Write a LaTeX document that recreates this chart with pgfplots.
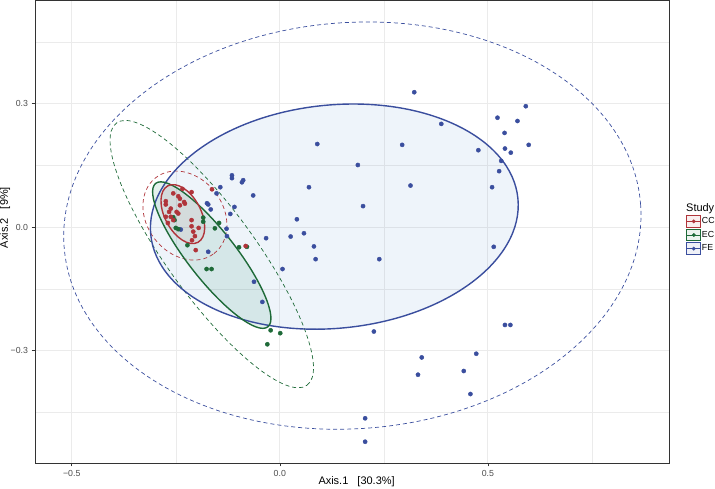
\documentclass[border=0pt]{standalone}
\usepackage{fontspec}
\setmainfont{Liberation Sans}
\usepackage{pgfplots}
\pgfplotsset{compat=1.18}

\definecolor{ccred}{RGB}{176,52,58}
\definecolor{ecgreen}{RGB}{30,106,56}
\definecolor{feblue}{RGB}{58,78,158}
\definecolor{fefill}{RGB}{70,130,200}
\definecolor{ecfill}{RGB}{30,140,100}
\definecolor{ccfill}{RGB}{200,60,60}
\definecolor{grid92}{gray}{0.92}
\definecolor{grey20}{gray}{0.2}
\definecolor{grey30}{gray}{0.3}

\begin{document}
\begin{tikzpicture}
\begin{axis}[
    name=ax,
    x=416bp, y=411bp,
    xmin=-0.5882, xmax=0.9358, ymin=-0.5735, ymax=0.5523,
    axis line style={grey20, line width=0.8bp},
    xtick={-0.5,0,0.5}, xticklabels={−0.5,0.0,0.5},
    ytick={-0.3,0,0.3}, yticklabels={−0.3,0.0,0.3},
    minor xtick={-0.25,0.25,0.75},
    minor ytick={-0.45,-0.15,0.15,0.45},
    grid=both,
    major grid style={grid92, line width=0.9bp},
    minor grid style={grid92, line width=0.45bp},
    tick align=outside, tick pos=left,
    major tick length=3.5bp, minor tick length=0pt,
    tick style={grey20, line width=0.6bp},
    ticklabel style={font=\fontsize{8.8}{10}\selectfont, text=grey30},
    xlabel={Axis.1\ \ \ [30.3\%]},
    ylabel={Axis.2\ \ \ [9\%]},
    label style={font=\fontsize{11}{13}\selectfont},
    xlabel style={at={(axis description cs:0.507,-0.0396)}, anchor=center},
    ylabel style={at={(axis description cs:-0.0473,0.53)}, anchor=center},
    legend style={at={(1.0263,0.536)}, anchor=north west, draw=none, fill=none,
        inner sep=0pt, row sep=0.8bp, font=\fontsize{8.8}{10}\selectfont,
        nodes={inner sep=0.6bp}},
    legend cell align=left,
]

% ellipse fills
\fill[fefill, fill opacity=0.09, rotate around={5.66:(axis cs:0.131,0.0255)}]
    (axis cs:0.131,0.0255) ellipse [x radius=184.4bp, y radius=111.6bp];
\fill[ecfill, fill opacity=0.12, rotate around={-52:(axis cs:-0.1635,-0.0681)}]
    (axis cs:-0.1635,-0.0681) ellipse [x radius=91bp, y radius=24bp];
\fill[ccfill, fill opacity=0.07, rotate around={-62:(axis cs:-0.233,0.0316)}]
    (axis cs:-0.233,0.0316) ellipse [x radius=32bp, y radius=18bp];

% dashed ellipses
\draw[feblue, line width=0.7bp, dash pattern=on 4bp off 3bp, rotate around={4.16:(axis cs:0.1743,0.0036)}]
    (axis cs:0.1743,0.0036) ellipse [x radius=288.9bp, y radius=203bp];
\draw[ecgreen, line width=0.7bp, dash pattern=on 4bp off 3bp, rotate around={-54:(axis cs:-0.1635,-0.0657)}]
    (axis cs:-0.1635,-0.0657) ellipse [x radius=162bp, y radius=44bp];
\draw[ccred, line width=0.7bp, dash pattern=on 4bp off 3bp, rotate around={-52.6:(axis cs:-0.228,0.028)}]
    (axis cs:-0.228,0.028) ellipse [x radius=47.8bp, y radius=38.2bp];

% solid ellipses
\draw[feblue, line width=1.4bp, rotate around={5.66:(axis cs:0.131,0.0255)}]
    (axis cs:0.131,0.0255) ellipse [x radius=184.4bp, y radius=111.6bp];
\draw[ecgreen, line width=1.4bp, rotate around={-52:(axis cs:-0.1635,-0.0681)}]
    (axis cs:-0.1635,-0.0681) ellipse [x radius=91bp, y radius=24bp];
\draw[ccred, line width=1.4bp, rotate around={-62:(axis cs:-0.233,0.0316)}]
    (axis cs:-0.233,0.0316) ellipse [x radius=32bp, y radius=18bp];

% FE
\addplot[only marks, mark=*, mark size=2.1bp, color=feblue, forget plot] coordinates {
(0.323,0.328)(0.388,0.251)(0.090,0.202)(0.294,0.200)(0.477,0.187)(0.1875,0.151)
(0.070,0.097)(0.314,0.101)(0.510,0.097)(0.200,0.051)(0.058,-0.015)(0.082,-0.047)
(0.086,-0.078)(0.239,-0.078)(0.514,-0.048)(0.523,0.266)(0.591,0.294)(0.571,0.258)
(0.540,0.229)(0.541,0.191)(0.555,0.181)(0.598,0.200)(0.532,0.161)(0.527,0.136)
(-0.172,-0.060)(0.0065,-0.102)(-0.062,-0.133)(-0.042,-0.182)(0.226,-0.254)
(0.341,-0.317)(0.472,-0.308)(0.332,-0.359)(0.442,-0.350)(0.458,-0.406)
(0.205,-0.465)(0.205,-0.522)(0.541,-0.238)(0.554,-0.238)(0.041,0.019)
(-0.115,0.126)(-0.115,0.119)(-0.091,0.109)(-0.088,0.114)(-0.064,0.077)
(-0.143,0.097)(-0.152,0.082)(-0.175,0.058)(-0.172,0.055)(-0.166,0.043)
(-0.109,0.049)(-0.119,0.032)(-0.238,-0.006)(-0.128,-0.004)(-0.127,-0.022)
(-0.033,-0.027)(0.026,-0.023)
};
% EC
\addplot[only marks, mark=*, mark size=2.1bp, color=ecgreen, forget plot] coordinates {
(-0.176,-0.102)(-0.164,-0.102)(-0.022,-0.251)(0.001,-0.258)(-0.030,-0.285)
(-0.256,0.024)(-0.253,0.017)(-0.250,-0.002)(-0.244,-0.005)(-0.184,0.023)
(-0.184,0.013)(-0.146,0.010)(-0.156,-0.003)(-0.222,-0.044)(-0.098,-0.049)
(-0.079,-0.048)
};
% CC
\addplot[only marks, mark=*, mark size=2.1bp, color=ccred, forget plot] coordinates {
(-0.234,0.093)(-0.212,0.085)(-0.163,0.092)(-0.256,0.082)(-0.244,0.075)
(-0.240,0.069)(-0.230,0.061)(-0.228,0.057)(-0.274,0.063)(-0.274,0.055)
(-0.240,0.053)(-0.262,0.045)(-0.248,0.037)(-0.266,0.037)(-0.262,0.025)
(-0.274,0.025)(-0.256,0.017)(-0.269,0.010)(-0.212,0.017)(-0.212,0.002)
(-0.195,-0.002)(-0.208,-0.011)(-0.204,-0.022)(-0.211,-0.032)(-0.202,-0.056)
(-0.082,-0.046)(-0.244,0.033)
};

\addlegendimage{legend image code/.code={
    \draw[ccred, line width=1.2bp, fill=ccred!8] (0bp,-5.8bp) rectangle (14bp,5.8bp);
    \draw[ccred, line width=0.5bp] (0bp,0bp) -- (14bp,0bp);
    \fill[ccred] (7bp,0bp) circle (1.7bp);}}
\addlegendentry{CC}
\addlegendimage{legend image code/.code={
    \draw[ecgreen, line width=1.2bp, fill=ecgreen!8] (0bp,-5.8bp) rectangle (14bp,5.8bp);
    \draw[ecgreen, line width=0.5bp] (0bp,0bp) -- (14bp,0bp);
    \fill[ecgreen] (7bp,0bp) circle (1.7bp);}}
\addlegendentry{EC}
\addlegendimage{legend image code/.code={
    \draw[feblue, line width=1.2bp, fill=feblue!8] (0bp,-5.8bp) rectangle (14bp,5.8bp);
    \draw[feblue, line width=0.5bp] (0bp,0bp) -- (14bp,0bp);
    \fill[feblue] (7bp,0bp) circle (1.7bp);}}
\addlegendentry{FE}
\end{axis}
\node[anchor=base west, inner sep=0pt, font=\fontsize{11}{13}\selectfont]
    at ([xshift=16.7bp, yshift=-211bp]ax.north east) {Study};
\pgfresetboundingbox
\path ([xshift=-35bp, yshift=-25.3bp]ax.south west) rectangle ([xshift=45.7bp]ax.north east);
\end{tikzpicture}
\end{document}
